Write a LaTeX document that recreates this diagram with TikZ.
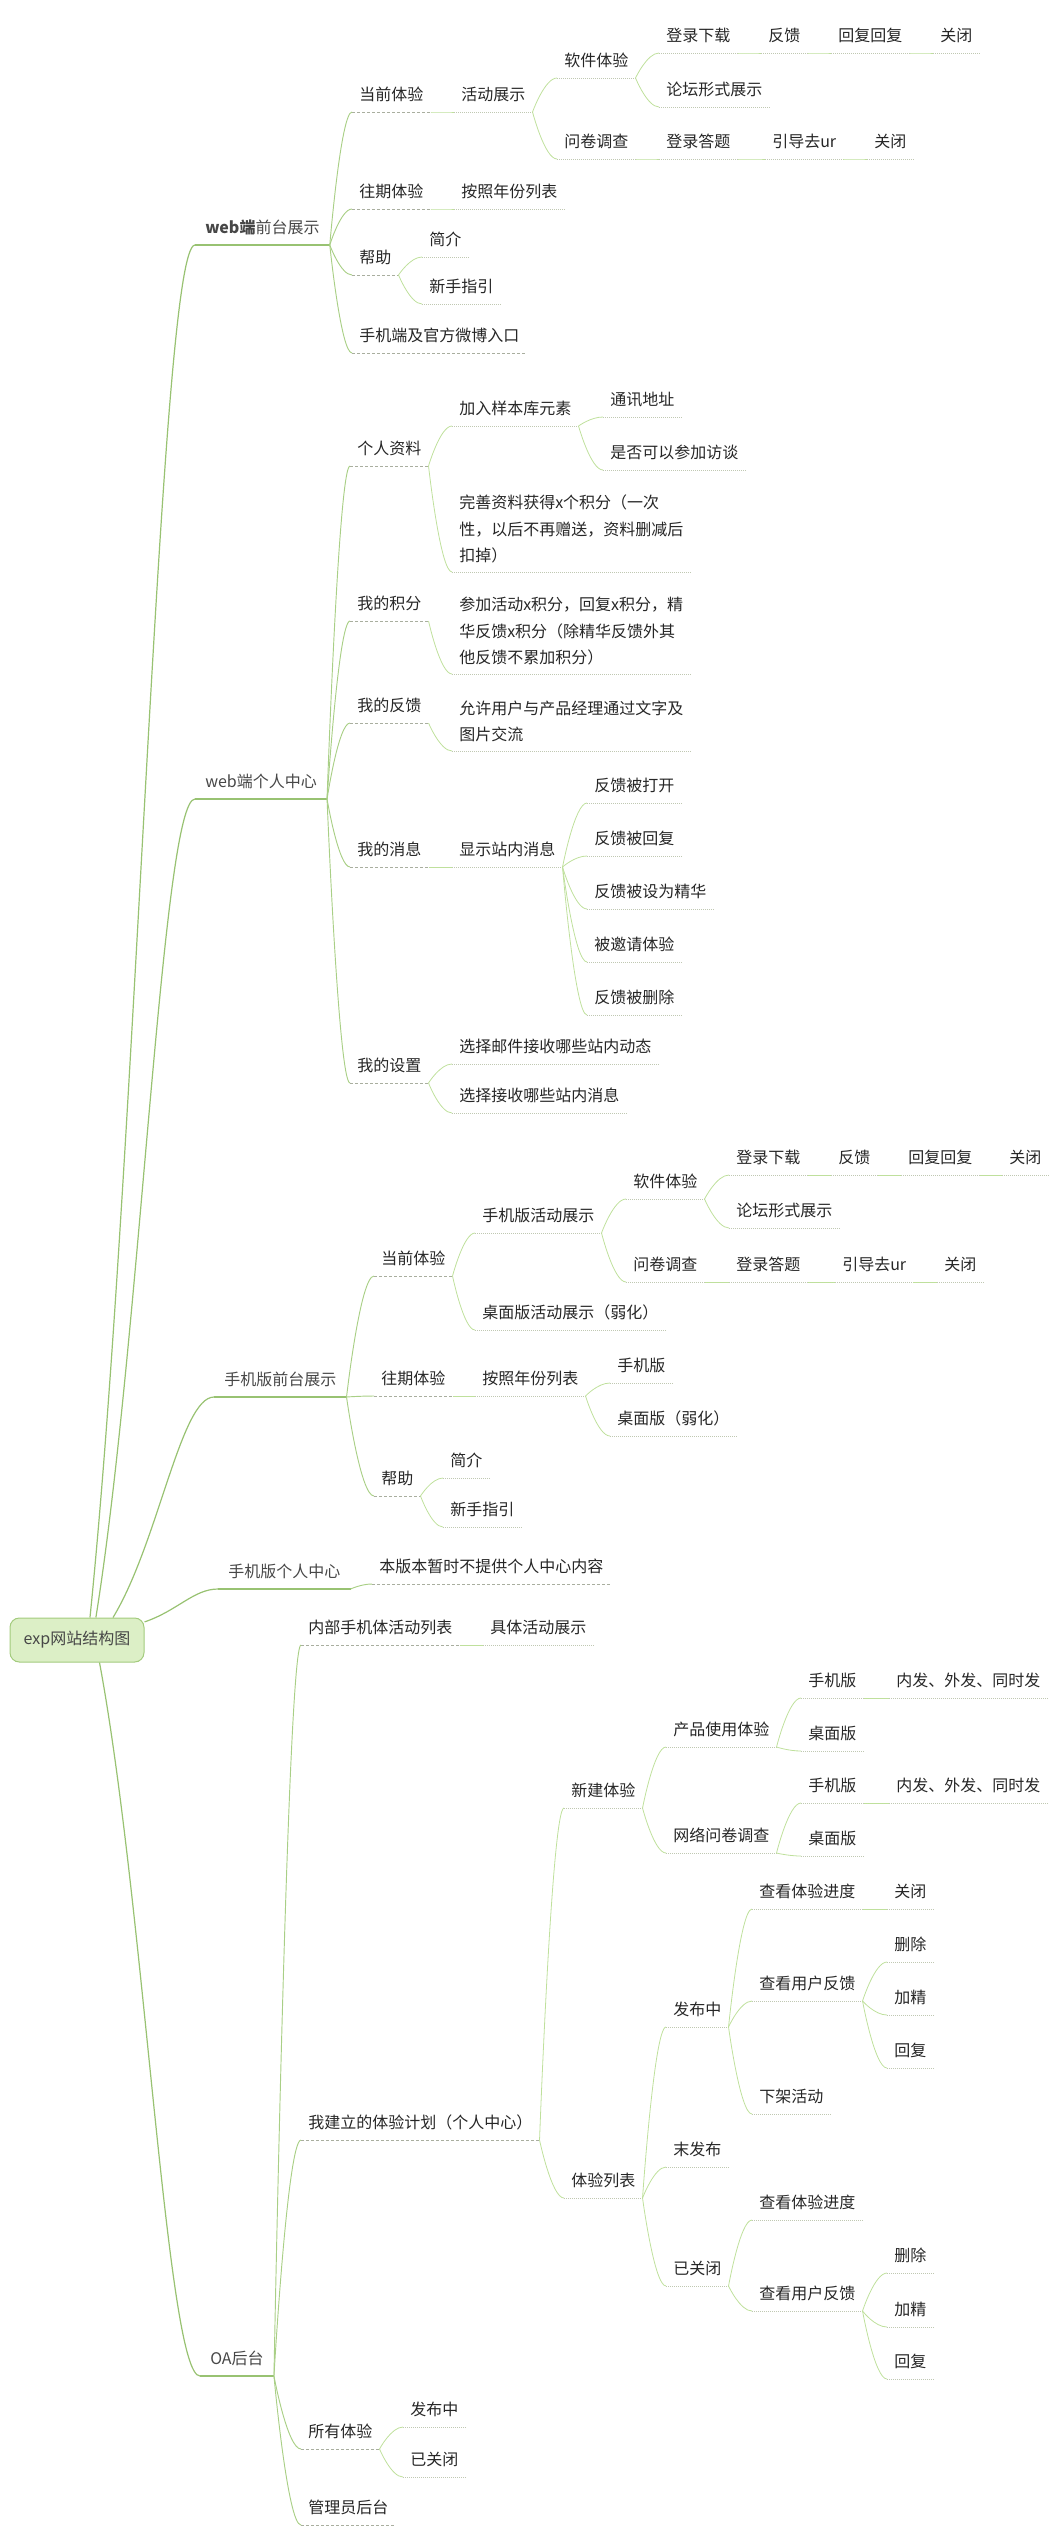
\documentclass[tikz,border=0pt]{standalone}
\usepackage{fontspec}
\setmainfont{Noto Sans CJK SC}
\usepackage{xcolor}
\usetikzlibrary{calc}

\definecolor{trunkgreen}{HTML}{98C272}
\definecolor{stemgreen}{HTML}{A9CF86}
\definecolor{twiggreen}{HTML}{BFE09C}
\definecolor{dashgrey}{HTML}{A9AE9F}
\definecolor{dotgrey}{HTML}{C0C8B2}
\definecolor{rootfill}{HTML}{DCEFC6}
\definecolor{rootdraw}{HTML}{A3CB7D}

\tikzset{
    trunk/.style={draw=trunkgreen, line width=0.9pt},
    stem/.style={draw=stemgreen, line width=0.7pt},
    twig/.style={draw=twiggreen, line width=0.6pt},
    dashline/.style={draw=dashgrey, line width=0.75pt, dash pattern=on 2.25pt off 1.5pt},
    dotline/.style={draw=dotgrey, line width=0.6pt, dash pattern=on 0.75pt off 0.75pt},
    tbase/.style={anchor=south west, inner xsep=5.25pt, font=\fontsize{12pt}{19.9pt}\selectfont, text=black!85},
    topic/.style={tbase, inner ysep=5.2pt, text height=10.5pt, text depth=3pt},
    rootbox/.style={rectangle, rounded corners=7pt, draw=rootdraw, fill=rootfill, line width=0.75pt, minimum width=100.5pt, minimum height=33pt, font=\fontsize{12pt}{14pt}\selectfont, text=black!72},
    l1/.style={topic, inner xsep=7.5pt, text=black!72, append after command={(\tikzlastnode.south west) edge[trunk] (\tikzlastnode.south east)}},
    l2/.style={topic, append after command={(\tikzlastnode.south west) edge[dashline] (\tikzlastnode.south east)}},
    l3/.style={topic, append after command={(\tikzlastnode.south west) edge[dotline] (\tikzlastnode.south east)}},
    l3m/.style={tbase, inner ysep=6.4pt, align=left, append after command={(\tikzlastnode.south west) edge[dotline] (\tikzlastnode.south east)}}
}

\newcommand{\rootlink}[2]{\draw[trunk] let \p1=(#1), \p2=(#2.south west) in (\p1) .. controls ({\x1+0.45*(\x2-\x1)},{\y1+0.34*(\y2-\y1)}) and ({\x2-0.33*(\x2-\x1)},\y2) .. (\p2);}
\newcommand{\sublink}[3][twig]{\draw[#1] let \p1=(#2.south east), \p2=(#3.south west) in (\p1) .. controls (\p1) and ({\x1+0.5*(\x2-\x1)},\y2) .. (\p2);}

\begin{document}
\begin{tikzpicture}[x=0.75pt, y=-0.75pt]
\useasboundingbox (0,0) rectangle (1050,2537);

\node[rootbox] (root) at (77,1640) {exp网站结构图};

% web端前台展示
\node[l1] (wf) at (195,245) {\textbf{web端}前台展示};
\node[l2] (wfa) at (352,112) {当前体验};
\node[l3] (wfa1) at (454,112) {活动展示};
\node[l3] (wfs) at (557,78) {软件体验};
\node[l3] (wfs1) at (659,53) {登录下载};
\node[l3] (wfs2) at (761,53) {反馈};
\node[l3] (wfs3) at (831,53) {回复回复};
\node[l3] (wfs4) at (933,53) {关闭};
\node[l3] (wfs5) at (659,107) {论坛形式展示};
\node[l3] (wfq) at (557,159) {问卷调查};
\node[l3] (wfq1) at (659,159) {登录答题};
\node[l3] (wfq2) at (765,159) {引导去ur};
\node[l3] (wfq3) at (867,159) {关闭};
\node[l2] (wfb) at (352,209) {往期体验};
\node[l3] (wfb1) at (454,209) {按照年份列表};
\node[l2] (wfc) at (352,275) {帮助};
\node[l3] (wfc1) at (422,257) {简介};
\node[l3] (wfc2) at (422,304) {新手指引};
\node[l2] (wfd) at (352,353) {手机端及官方微博入口};

% web端个人中心
\node[l1] (wp) at (195,799) {web端个人中心};
\node[l2] (wpa) at (350,466) {个人资料};
\node[l3] (wpa1) at (452,426) {加入样本库元素};
\node[l3] (wpa11) at (603,417) {通讯地址};
\node[l3] (wpa12) at (603,470) {是否可以参加访谈};
\node[l3m] (wpa2) at (452,572) {完善资料获得x个积分（一次\\性，以后不再赠送，资料删减后\\扣掉）};
\node[l2] (wpb) at (350,621) {我的积分};
\node[l3m] (wpb1) at (452,674) {参加活动x积分，回复x积分，精\\华反馈x积分（除精华反馈外其\\他反馈不累加积分）};
\node[l2] (wpc) at (350,723) {我的反馈};
\node[l3m] (wpc1) at (452,751) {允许用户与产品经理通过文字及\\图片交流};
\node[l2] (wpd) at (350,867) {我的消息};
\node[l3] (wpd1) at (452,867) {显示站内消息};
\node[l3] (wpd11) at (587,803) {反馈被打开};
\node[l3] (wpd12) at (587,856) {反馈被回复};
\node[l3] (wpd13) at (587,909) {反馈被设为精华};
\node[l3] (wpd14) at (587,962) {被邀请体验};
\node[l3] (wpd15) at (587,1015) {反馈被删除};
\node[l2] (wpe) at (350,1083) {我的设置};
\node[l3] (wpe1) at (452,1064) {选择邮件接收哪些站内动态};
\node[l3] (wpe2) at (452,1113) {选择接收哪些站内消息};

% 手机版前台展示
\node[l1] (mf) at (214,1397) {手机版前台展示};
\node[l2] (mfa) at (374,1276) {当前体验};
\node[l3] (mfa1) at (475,1233) {手机版活动展示};
\node[l3] (mfs) at (626,1199) {软件体验};
\node[l3] (mfs1) at (729,1175) {登录下载};
\node[l3] (mfs2) at (831,1175) {反馈};
\node[l3] (mfs3) at (901,1175) {回复回复};
\node[l3] (mfs4) at (1002,1175) {关闭};
\node[l3] (mfs5) at (729,1228) {论坛形式展示};
\node[l3] (mfq) at (626,1282) {问卷调查};
\node[l3] (mfq1) at (729,1282) {登录答题};
\node[l3] (mfq2) at (835,1282) {引导去ur};
\node[l3] (mfq3) at (937,1282) {关闭};
\node[l3] (mfa2) at (475,1330) {桌面版活动展示（弱化）};
\node[l2] (mfb) at (374,1396) {往期体验};
\node[l3] (mfb1) at (475,1396) {按照年份列表};
\node[l3] (mfb11) at (610,1383) {手机版};
\node[l3] (mfb12) at (610,1436) {桌面版（弱化）};
\node[l2] (mfc) at (374,1496) {帮助};
\node[l3] (mfc1) at (443,1478) {简介};
\node[l3] (mfc2) at (443,1527) {新手指引};

% 手机版个人中心
\node[l1] (mp) at (218,1589) {手机版个人中心};
\node[l2] (mp1) at (372,1584) {本版本暂时不提供个人中心内容};

% OA后台
\node[l1] (oa) at (200,2376) {OA后台};
\node[l2] (oa1) at (301,1645) {内部手机体活动列表};
\node[l3] (oa11) at (483,1645) {具体活动展示};
\node[l2] (oa2) at (301,2140) {我建立的体验计划（个人中心）};
\node[l3] (oan) at (564,1808) {新建体验};
\node[l3] (oan1) at (666,1747) {产品使用体验};
\node[l3] (oan11) at (801,1698) {手机版};
\node[l3] (oan111) at (889,1698) {内发、外发、同时发};
\node[l3] (oan12) at (801,1751) {桌面版};
\node[l3] (oan2) at (666,1853) {网络问卷调查};
\node[l3] (oan21) at (801,1803) {手机版};
\node[l3] (oan211) at (889,1803) {内发、外发、同时发};
\node[l3] (oan22) at (801,1856) {桌面版};
\node[l3] (oal) at (564,2198) {体验列表};
\node[l3] (oal1) at (666,2027) {发布中};
\node[l3] (oal11) at (752,1909) {查看体验进度};
\node[l3] (oal111) at (887,1909) {关闭};
\node[l3] (oal12) at (752,2001) {查看用户反馈};
\node[l3] (oal121) at (887,1962) {删除};
\node[l3] (oal122) at (887,2015) {加精};
\node[l3] (oal123) at (887,2068) {回复};
\node[l3] (oal13) at (752,2114) {下架活动};
\node[l3] (oal2) at (666,2167) {末发布};
\node[l3] (oal3) at (666,2286) {已关闭};
\node[l3] (oal31) at (752,2220) {查看体验进度};
\node[l3] (oal32) at (752,2311) {查看用户反馈};
\node[l3] (oal321) at (887,2273) {删除};
\node[l3] (oal322) at (887,2327) {加精};
\node[l3] (oal323) at (887,2379) {回复};
\node[l2] (oa3) at (301,2449) {所有体验};
\node[l3] (oa31) at (403,2427) {发布中};
\node[l3] (oa32) at (403,2477) {已关闭};
\node[l2] (oa4) at (301,2525) {管理员后台};

% connectors
\rootlink{root.60}{wf}
\rootlink{root.50}{wp}
\rootlink{root.32}{mf}
\rootlink{root.15}{mp}
\rootlink{root.-45}{oa}

\foreach \c in {wfa,wfb,wfc,wfd} {\sublink[stem]{wf}{\c}}
\sublink{wfa}{wfa1}
\foreach \c in {wfs,wfq} {\sublink{wfa1}{\c}}
\foreach \c in {wfs1,wfs5} {\sublink{wfs}{\c}}
\sublink{wfs1}{wfs2}
\sublink{wfs2}{wfs3}
\sublink{wfs3}{wfs4}
\sublink{wfq}{wfq1}
\sublink{wfq1}{wfq2}
\sublink{wfq2}{wfq3}
\sublink{wfb}{wfb1}
\foreach \c in {wfc1,wfc2} {\sublink{wfc}{\c}}

\foreach \c in {wpa,wpb,wpc,wpd,wpe} {\sublink[stem]{wp}{\c}}
\foreach \c in {wpa1,wpa2} {\sublink{wpa}{\c}}
\foreach \c in {wpa11,wpa12} {\sublink{wpa1}{\c}}
\sublink{wpb}{wpb1}
\sublink{wpc}{wpc1}
\sublink{wpd}{wpd1}
\foreach \c in {wpd11,wpd12,wpd13,wpd14,wpd15} {\sublink{wpd1}{\c}}
\foreach \c in {wpe1,wpe2} {\sublink{wpe}{\c}}

\foreach \c in {mfa,mfb,mfc} {\sublink[stem]{mf}{\c}}
\foreach \c in {mfa1,mfa2} {\sublink{mfa}{\c}}
\foreach \c in {mfs,mfq} {\sublink{mfa1}{\c}}
\foreach \c in {mfs1,mfs5} {\sublink{mfs}{\c}}
\sublink{mfs1}{mfs2}
\sublink{mfs2}{mfs3}
\sublink{mfs3}{mfs4}
\sublink{mfq}{mfq1}
\sublink{mfq1}{mfq2}
\sublink{mfq2}{mfq3}
\sublink{mfb}{mfb1}
\foreach \c in {mfb11,mfb12} {\sublink{mfb1}{\c}}
\foreach \c in {mfc1,mfc2} {\sublink{mfc}{\c}}

\sublink[stem]{mp}{mp1}

\foreach \c in {oa1,oa2,oa3,oa4} {\sublink[stem]{oa}{\c}}
\sublink{oa1}{oa11}
\foreach \c in {oan,oal} {\sublink{oa2}{\c}}
\foreach \c in {oan1,oan2} {\sublink{oan}{\c}}
\foreach \c in {oan11,oan12} {\sublink{oan1}{\c}}
\sublink{oan11}{oan111}
\foreach \c in {oan21,oan22} {\sublink{oan2}{\c}}
\sublink{oan21}{oan211}
\foreach \c in {oal1,oal2,oal3} {\sublink{oal}{\c}}
\foreach \c in {oal11,oal12,oal13} {\sublink{oal1}{\c}}
\sublink{oal11}{oal111}
\foreach \c in {oal121,oal122,oal123} {\sublink{oal12}{\c}}
\foreach \c in {oal31,oal32} {\sublink{oal3}{\c}}
\foreach \c in {oal321,oal322,oal323} {\sublink{oal32}{\c}}
\foreach \c in {oa31,oa32} {\sublink{oa3}{\c}}
\end{tikzpicture}
\end{document}
